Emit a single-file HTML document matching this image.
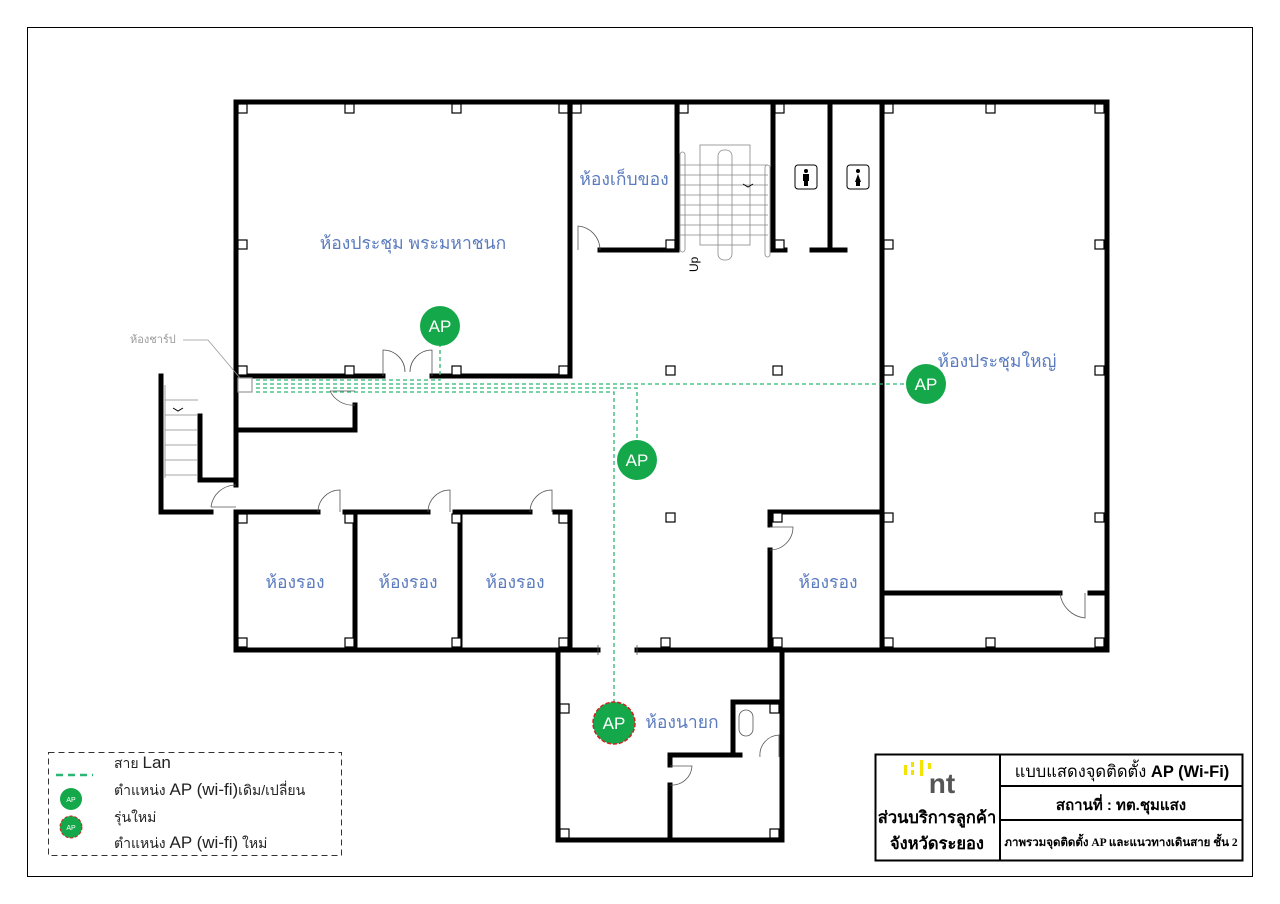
<!DOCTYPE html>
<html><head><meta charset="utf-8"><style>
body{margin:0;background:#fff}
svg{display:block}
.t{font-family:"Liberation Sans","Noto Sans CJK SC",sans-serif}
</style></head><body>
<svg width="1280" height="904" viewBox="0 0 1280 904" xmlns="http://www.w3.org/2000/svg">
<rect x="0" y="0" width="1280" height="904" fill="#fff"/>
<rect x="27.5" y="27.5" width="1225" height="849" fill="none" stroke="#000" stroke-width="1"/>
<g stroke="#000" stroke-width="5" fill="none" stroke-linecap="square">
<path d="M236 102 H1107 V650 H637"/>
<path d="M598 650 H236 V512"/>
<path d="M236 485 V102"/>
<path d="M161 376 V512 H211"/>
<path d="M200 416 V480 H236"/>
<path d="M236 376 H383"/>
<path d="M432 376 H570 V102"/>
<path d="M236 430 H355 V405"/>
<path d="M600 250 H677 V102"/>
<path d="M773 102 V250 H785"/>
<path d="M830 102 V250"/>
<path d="M812 250 H845"/>
<path d="M882 102 V650"/>
<path d="M882 593 H1060"/>
<path d="M1090 593 H1107"/>
<path d="M236 512 H318"/>
<path d="M345 512 H428"/>
<path d="M455 512 H530"/>
<path d="M555 512 H570 V650"/>
<path d="M355 512 V650"/>
<path d="M460 512 V650"/>
<path d="M770 525 V512 H882"/>
<path d="M770 550 V650"/>
<path d="M558 650 V840 H782 V650"/>
<path d="M733 755 V702 H782"/>
<path d="M670 765 V755 H740"/>
<path d="M670 785 V840"/>
</g>
<g fill="#fff" stroke="#000" stroke-width="1.2">
<rect x="238" y="104" width="9" height="9"/><rect x="345" y="104" width="9" height="9"/><rect x="452" y="104" width="9" height="9"/><rect x="559" y="104" width="9" height="9"/>
<rect x="238" y="240" width="9" height="9"/><rect x="238" y="366" width="9" height="9"/><rect x="345" y="366" width="9" height="9"/><rect x="452" y="366" width="9" height="9"/><rect x="559" y="366" width="9" height="9"/>
<rect x="572" y="104" width="9" height="9"/><rect x="666" y="240" width="9" height="9"/><rect x="679" y="104" width="9" height="9"/><rect x="775" y="104" width="9" height="9"/><rect x="775" y="240" width="9" height="9"/>
<rect x="884" y="104" width="9" height="9"/><rect x="986" y="104" width="9" height="9"/><rect x="1095" y="104" width="9" height="9"/>
<rect x="884" y="240" width="9" height="9"/><rect x="1095" y="240" width="9" height="9"/><rect x="884" y="366" width="9" height="9"/><rect x="1095" y="366" width="9" height="9"/>
<rect x="884" y="513" width="9" height="9"/><rect x="1095" y="513" width="9" height="9"/><rect x="884" y="638" width="9" height="9"/><rect x="986" y="638" width="9" height="9"/><rect x="1095" y="638" width="9" height="9"/>
<rect x="666" y="366" width="9" height="9"/><rect x="773" y="366" width="9" height="9"/><rect x="666" y="513" width="9" height="9"/><rect x="773" y="513" width="9" height="9"/>
<rect x="238" y="514" width="9" height="9"/><rect x="345" y="514" width="9" height="9"/><rect x="452" y="514" width="9" height="9"/><rect x="559" y="514" width="9" height="9"/>
<rect x="238" y="638" width="9" height="9"/><rect x="345" y="638" width="9" height="9"/><rect x="452" y="638" width="9" height="9"/><rect x="559" y="638" width="9" height="9"/>
<rect x="661" y="638" width="9" height="9"/><rect x="773" y="638" width="9" height="9"/>
<rect x="560" y="704" width="9" height="9"/><rect x="770" y="704" width="9" height="9"/><rect x="560" y="829" width="9" height="9"/><rect x="770" y="829" width="9" height="9"/>
<rect x="238" y="378" width="14" height="14" stroke="#999"/>
</g>
<g fill="none" stroke="#555" stroke-width="0.8">
<path d="M383 376 V350 A22 22 0 0 1 405 372"/><path d="M432 376 V350 A22 22 0 0 0 410 372"/>
<path d="M578 250 V226 A24 24 0 0 1 600 250"/>
<path d="M330 391 H355 M330 391 A25 25 0 0 0 355 405"/>
<path d="M318 512 A22 22 0 0 1 340 490 V512"/>
<path d="M428 512 A22 22 0 0 1 450 490 V512"/>
<path d="M530 512 A22 22 0 0 1 552 490 V512"/>
<path d="M211 507 H236 M211 507 A25 25 0 0 1 236 485"/>
<path d="M770 527 H793 A23 23 0 0 1 770 550"/>
<path d="M1060 593 A28 28 0 0 0 1085 618 V593"/>
<path d="M670 766 H692 A20 20 0 0 1 670 785"/>
<path d="M760 757 A20 20 0 0 1 779 735 V757"/>
<rect x="739" y="710" width="14" height="26" rx="7"/>
<path d="M598 645 V655 M637 645 V655"/>
</g>
<g fill="none" stroke="#888" stroke-width="0.8">
<rect x="700" y="145" width="50" height="100"/>
<rect x="718" y="150" width="14" height="110" rx="6"/>
<rect x="680" y="152" width="5" height="100" rx="2.5"/>
<rect x="765" y="165" width="5" height="92" rx="2.5"/>
<path d="M680 165 H768 M680 175 H768 M680 185 H768 M680 195 H768 M680 205 H768 M680 215 H768 M680 225 H768 M680 235 H768"/>
<path d="M165 385 V478 M165 400 H198 M165 415 H198 M165 430 H198 M165 445 H198 M165 460 H198 M165 475 H198"/>
</g>
<text x="698" y="272" transform="rotate(-90 698 272)" class="t" font-size="12">Up</text>
<path d="M743 184 L748 187 L753 184" stroke="#000" fill="none"/>
<path d="M173 408 L178 411 L183 408" stroke="#000" fill="none"/>
<!-- toilet icons -->
<rect x="795" y="165" width="22" height="24" rx="3" fill="#fff" stroke="#000"/>
<circle cx="806" cy="171" r="2" fill="#000"/><rect x="803" y="174" width="6" height="7" fill="#000"/><rect x="804" y="180" width="4" height="6" fill="#000"/>
<rect x="847" y="165" width="22" height="24" rx="3" fill="#fff" stroke="#000"/>
<circle cx="858" cy="171" r="2" fill="#000"/><path d="M855 182 L858 174 L861 182 Z" fill="#000"/><rect x="856" y="181" width="4" height="5" fill="#000"/>
<g class="t" fill="#5b7bbf" font-size="17.5">
<text x="413" y="249" text-anchor="middle">ห้องประชุม พระมหาชนก</text>
<text x="624" y="185" text-anchor="middle">ห้องเก็บของ</text>
<text x="997" y="367" text-anchor="middle">ห้องประชุมใหญ่</text>
<text x="295" y="588" text-anchor="middle">ห้องรอง</text>
<text x="408" y="588" text-anchor="middle">ห้องรอง</text>
<text x="515" y="588" text-anchor="middle">ห้องรอง</text>
<text x="828" y="588" text-anchor="middle">ห้องรอง</text>
<text x="682" y="728" text-anchor="middle">ห้องนายก</text>
</g>
<text x="130" y="343" class="t" font-size="11" fill="#999">ห้องชาร์ป</text>
<path d="M183 340 H208 L240 378" stroke="#999" fill="none" stroke-width="0.8"/>
<g stroke="#2bb673" stroke-width="1.3" fill="none" stroke-dasharray="4 3">
<path d="M256 380 H440 V345"/>
<path d="M256 384 H906"/>
<path d="M256 388 H637 V440"/>
<path d="M256 392 H614 V703"/>
</g>
<g class="t" font-size="17" fill="#fff" text-anchor="middle">
<circle cx="440" cy="326" r="20" fill="#14a84a"/><text x="440" y="332">AP</text>
<circle cx="926" cy="384" r="20" fill="#14a84a"/><text x="926" y="390">AP</text>
<circle cx="637" cy="460" r="20" fill="#14a84a"/><text x="637" y="466">AP</text>
<circle cx="614" cy="723" r="21" fill="#14a84a" stroke="#d42020" stroke-width="1.5" stroke-dasharray="4 2"/><text x="614" y="729">AP</text>
</g>
<rect x="48.5" y="752.5" width="293" height="103" fill="#fff" stroke="#333" stroke-dasharray="6 4"/>
<path d="M56 775 H93" stroke="#2bb673" stroke-width="2.5" stroke-dasharray="7 5"/>
<circle cx="71" cy="799" r="11" fill="#14a84a"/><text x="71" y="802" class="t" font-size="7" fill="#fff" text-anchor="middle">AP</text>
<circle cx="71" cy="827" r="11" fill="#14a84a" stroke="#d42020" stroke-dasharray="3 2"/><text x="71" y="830" class="t" font-size="7" fill="#fff" text-anchor="middle">AP</text>
<g class="t" font-size="14" fill="#222">
<text x="114" y="768">สาย <tspan font-size="17">Lan</tspan></text>
<text x="114" y="795">ตำแหน่ง <tspan font-size="17">AP (wi-fi)</tspan>เดิม/เปลี่ยน</text>
<text x="114" y="822">รุ่นใหม่</text>
<text x="114" y="848">ตำแหน่ง <tspan font-size="17">AP (wi-fi)</tspan> ใหม่</text>
</g>
<rect x="875.5" y="754.5" width="367" height="106" fill="#fff" stroke="#000" stroke-width="2"/>
<path d="M1000 754 V860 M1000 786 H1242 M1000 820 H1242" stroke="#000" stroke-width="2"/>
<g fill="#f2e300"><rect x="904" y="765" width="3" height="10"/><rect x="911" y="762" width="3" height="5"/><rect x="911" y="770" width="3" height="5"/><rect x="920" y="760" width="3" height="16"/><rect x="928" y="763" width="3" height="6"/></g>
<text x="942" y="793" class="t" font-size="28" font-weight="bold" fill="#555" text-anchor="middle">nt</text>
<g class="t" font-weight="bold" fill="#000" text-anchor="middle">
<text x="937" y="823" font-size="16.5">ส่วนบริการลูกค้า</text>
<text x="937" y="849" font-size="16.5">จังหวัดระยอง</text>
<text x="1122" y="777" font-size="16.5" font-weight="normal">แบบแสดงจุดติดตั้ง <tspan font-weight="bold">AP (Wi-Fi)</tspan></text>
<text x="1121" y="810" font-size="15">สถานที่ :  ทต.ชุมแสง</text>
<text x="1121" y="846" font-size="11.5" font-family="Liberation Serif,serif">ภาพรวมจุดติดตั้ง AP และแนวทางเดินสาย ชั้น 2</text>
</g>
</svg>
</body></html>
